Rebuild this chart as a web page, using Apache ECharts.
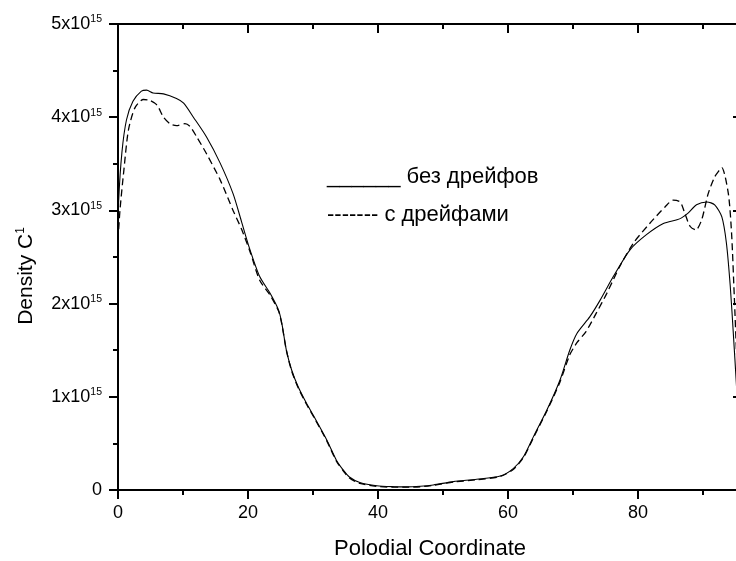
<!DOCTYPE html>
<html>
<head>
<meta charset="utf-8">
<script src="https://cdn.jsdelivr.net/npm/echarts@6/dist/echarts.min.js"></script>
<style>
  html, body { margin: 0; padding: 0; background: #fff; }
  #chart { width: 736px; height: 561px; }
</style>
</head>
<body>
<div id="chart"></div>
<script>
// density values are in units of 1e15
const polodialSolid = [0, 0.1, 0.6, 1.3, 2.3, 3.6, 4.4, 5.4, 7, 9, 10.1, 11.6, 13.6, 15.7, 17.7, 19.0, 20.2,
  21.8, 23.4, 24.7, 25.2, 25.9, 26.7, 27.7, 29.0, 30.3, 32.1, 33.6, 34.7, 35.6, 37.2, 39.8, 42.5, 44.4,
  46.5, 48.5, 51.6, 55.2, 58.8, 60.8, 62.4, 63.9, 66.0, 68.0, 69.5, 70.6, 72.6, 74.2, 76.2, 78.8, 81.3,
  83.9, 86.0, 86.7, 87.7, 89.0, 90.6, 91.8, 92.9, 93.6, 94.2, 94.7, 95.1, 95.6];
const densitySolid = [2.7, 3.1, 3.62, 3.97, 4.17, 4.28, 4.29, 4.26, 4.25, 4.2, 4.15, 4.0, 3.79, 3.51, 3.18, 2.88, 2.6,
  2.29, 2.11, 1.93, 1.79, 1.50, 1.29, 1.11, 0.93, 0.77, 0.54, 0.32, 0.21, 0.14, 0.08, 0.045, 0.035, 0.033,
  0.04, 0.054, 0.09, 0.115, 0.15, 0.23, 0.36, 0.57, 0.86, 1.18, 1.50, 1.68, 1.86, 2.04, 2.29, 2.58, 2.74,
  2.86, 2.90, 2.92, 2.97, 3.06, 3.09, 3.06, 2.93, 2.65, 2.18, 1.64, 1.18, 0.6];

const polodialDashed = [0, 0.3, 0.9, 1.6, 2.6, 3.9, 4.9, 6.0, 7.0, 8.0, 9.0, 10.3, 11.1, 12.1, 13.6, 15.7, 17.7, 19.0, 20.3,
  21.8, 23.4, 24.7, 25.2, 25.9, 26.7, 27.7, 29.0, 30.3, 32.1, 33.6, 34.7, 35.6, 37.2, 39.8, 42.5, 44.4,
  46.5, 48.5, 51.6, 55.2, 58.8, 60.8, 62.4, 63.9, 66.0, 68.0, 69.5, 70.6, 72.0, 73.6, 75.2, 77.2, 79.3,
  81.8, 84.2, 85.4, 86.5, 87.2, 88.0, 88.9, 89.8, 90.8, 91.8, 92.5, 92.9, 93.9, 94.4, 94.8, 95.2, 95.6];
const densityDashed = [2.68, 3.0, 3.43, 3.86, 4.10, 4.19, 4.18, 4.13, 4.0, 3.93, 3.91, 3.93, 3.9, 3.79, 3.61, 3.33, 3.0, 2.8, 2.56,
  2.25, 2.09, 1.92, 1.78, 1.50, 1.28, 1.10, 0.92, 0.76, 0.53, 0.31, 0.2, 0.13, 0.07, 0.04, 0.03, 0.03,
  0.035, 0.05, 0.085, 0.11, 0.145, 0.22, 0.35, 0.56, 0.85, 1.16, 1.45, 1.58, 1.70, 1.90, 2.11, 2.40, 2.65,
  2.86, 3.04, 3.11, 3.09, 2.97, 2.83, 2.79, 2.90, 3.18, 3.36, 3.43, 3.46, 3.18, 2.75, 2.1, 1.4, 0.8];

const legendLabels = ['______ без дрейфов', '------- с дрейфами'];
const SCALE = 1e15;
const FONT = '"Liberation Sans", Arial, sans-serif';

const toPairs = (xs, ys) => xs.map((x, i) => [x, ys[i] * SCALE]);

const chart = echarts.init(document.getElementById('chart'));

const tickLine = { color: '#000', width: 2 };

const option = {
  backgroundColor: '#fff',
  animation: false,
  // the frame runs a little past the right edge of the picture (cropped original)
  grid: { left: 118, top: 24, width: 624, height: 466, containLabel: false, outerBoundsMode: 'none' },
  xAxis: [{
    type: 'value',
    position: 'bottom',
    min: 0,
    max: 96,
    interval: 20,
    axisLine: { show: true, onZero: false, lineStyle: tickLine },
    axisTick: { show: true, inside: false, length: 9, lineStyle: tickLine },
    minorTick: { show: true, splitNumber: 2, length: 5, lineStyle: tickLine },
    splitLine: { show: false },
    axisLabel: {
      color: '#000', fontSize: 18, fontFamily: FONT, margin: 14,
      formatter: v => (v % 20 === 0 ? String(v) : '')
    }
  }, {
    type: 'value',
    position: 'top',
    min: 0,
    max: 96,
    interval: 20,
    axisLine: { show: true, onZero: false, lineStyle: tickLine },
    axisTick: { show: true, inside: true, length: 9, lineStyle: tickLine },
    minorTick: { show: true, splitNumber: 2, length: 5, lineStyle: tickLine },
    splitLine: { show: false },
    axisLabel: { show: false }
  }],
  yAxis: [{
    type: 'value',
    position: 'left',
    min: 0,
    max: 5 * SCALE,
    interval: SCALE,
    axisLine: { show: true, onZero: false, lineStyle: tickLine },
    axisTick: { show: true, inside: false, length: 9, lineStyle: tickLine },
    minorTick: { show: true, splitNumber: 2, length: 5, lineStyle: tickLine },
    splitLine: { show: false },
    axisLabel: {
      color: '#000', fontSize: 18, fontFamily: FONT, margin: 16,
      formatter: function (value) {
        if (value === 0) return '0';
        return '{base|' + Math.round(value / SCALE) + 'x10}{sup|15}';
      },
      rich: {
        base: { fontSize: 18, fontFamily: FONT, color: '#000', lineHeight: 20 },
        sup: { fontSize: 10.5, fontFamily: FONT, color: '#000', lineHeight: 12, verticalAlign: 'top' }
      }
    }
  }, {
    type: 'value',
    position: 'right',
    min: 0,
    max: 5 * SCALE,
    interval: SCALE,
    axisLine: { show: true, onZero: false, lineStyle: tickLine },
    axisTick: { show: true, inside: true, length: 9, lineStyle: tickLine },
    minorTick: { show: true, splitNumber: 2, length: 5, lineStyle: tickLine },
    splitLine: { show: false },
    axisLabel: { show: false }
  }],
  series: [{
    name: 'без дрейфов',
    type: 'line',
    data: toPairs(polodialSolid, densitySolid),
    showSymbol: false,
    smooth: 0.25,
    lineStyle: { color: '#000', width: 1.1, type: 'solid' }
  }, {
    name: 'с дрейфами',
    type: 'line',
    data: toPairs(polodialDashed, densityDashed),
    showSymbol: false,
    smooth: 0.25,
    lineStyle: { color: '#000', width: 1.3, type: [7, 4] }
  }],
  graphic: [{
    type: 'text',
    x: 327, y: 177,
    style: { text: legendLabels[0], font: '22px ' + FONT, fill: '#000', align: 'left', verticalAlign: 'middle' }
  }, {
    type: 'text',
    x: 327, y: 215,
    style: { text: legendLabels[1], font: '22px ' + FONT, fill: '#000', align: 'left', verticalAlign: 'middle' }
  }, {
    type: 'text',
    x: 430, y: 549,
    style: { text: 'Polodial Coordinate', font: '22px ' + FONT, fill: '#000', align: 'center', verticalAlign: 'middle' }
  }, {
    type: 'text',
    x: 26, y: 276,
    rotation: Math.PI / 2,
    style: {
      text: '{m|Density C}{s|1}',
      align: 'center', verticalAlign: 'middle',
      rich: {
        m: { fontSize: 21, fontFamily: FONT, fill: '#000', lineHeight: 22 },
        s: { fontSize: 12, fontFamily: FONT, fill: '#000', lineHeight: 12, verticalAlign: 'top' }
      }
    }
  }]
};

chart.setOption(option);
</script>
</body>
</html>
